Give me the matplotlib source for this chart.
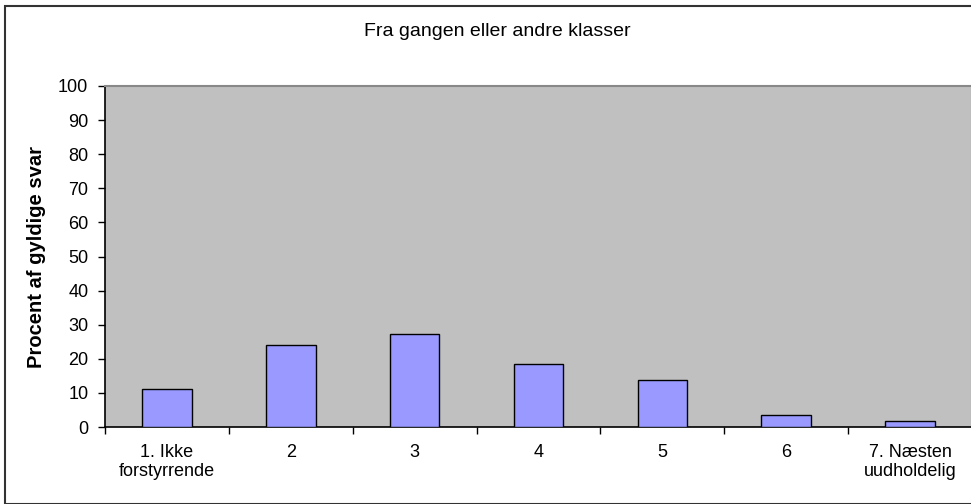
import matplotlib.pyplot as plt
from matplotlib.patches import Rectangle
import numpy as np

plt.rcParams['font.family'] = ['Liberation Sans', 'DejaVu Sans']

# data
categories = ['1. Ikke\nforstyrrende', '2', '3', '4', '5', '6', '7. Næsten\nuudholdelig']
values = [11.0, 24.0, 27.3, 18.5, 13.9, 3.6, 1.8]
yticks = list(range(0, 101, 10))

W, H = 971, 504
fig = plt.figure(figsize=(W / 100, H / 100), dpi=100)

# outer chart frame
fig.patches.append(Rectangle((4.5 / W, 0), 1.0, 1 - 5.5 / H, transform=fig.transFigure,
                             fill=False, edgecolor='#333333', linewidth=1.5))

ax = fig.add_axes([105 / W, (H - 427) / H, (972 - 105) / W, (427 - 86) / H])
ax.set_facecolor('#c0c0c0')

x = np.arange(len(categories))
ax.bar(x, values, width=0.4, color='#9999ff', edgecolor='black', linewidth=1.0, zorder=3)

ax.set_xlim(-0.5, len(categories) - 0.5)
ax.set_ylim(0, 100)
ax.set_yticks(yticks)
ax.tick_params(axis='y', direction='out', length=5, width=1, labelsize=13, pad=7)

ax.set_xticks(x)
ax.set_xticklabels(categories, fontsize=13, linespacing=1.2)
ax.set_xticks(np.arange(len(categories) + 1) - 0.5, minor=True)
ax.tick_params(axis='x', which='major', length=0, pad=12)
ax.tick_params(axis='x', which='minor', direction='out', length=5, width=1)

for s in ['left', 'bottom']:
    ax.spines[s].set_color('black')
    ax.spines[s].set_linewidth(1.2)
for s in ['top', 'right']:
    ax.spines[s].set_color('#888888')
    ax.spines[s].set_linewidth(1.5)

ax.set_ylabel('Procent af gyldige svar', fontsize=14.5, fontweight='bold', labelpad=9)
fig.text(497 / W, 1 - 32 / H, 'Fra gangen eller andre klasser',
         ha='center', va='center', fontsize=14)

fig.savefig('out.png', dpi=100)
